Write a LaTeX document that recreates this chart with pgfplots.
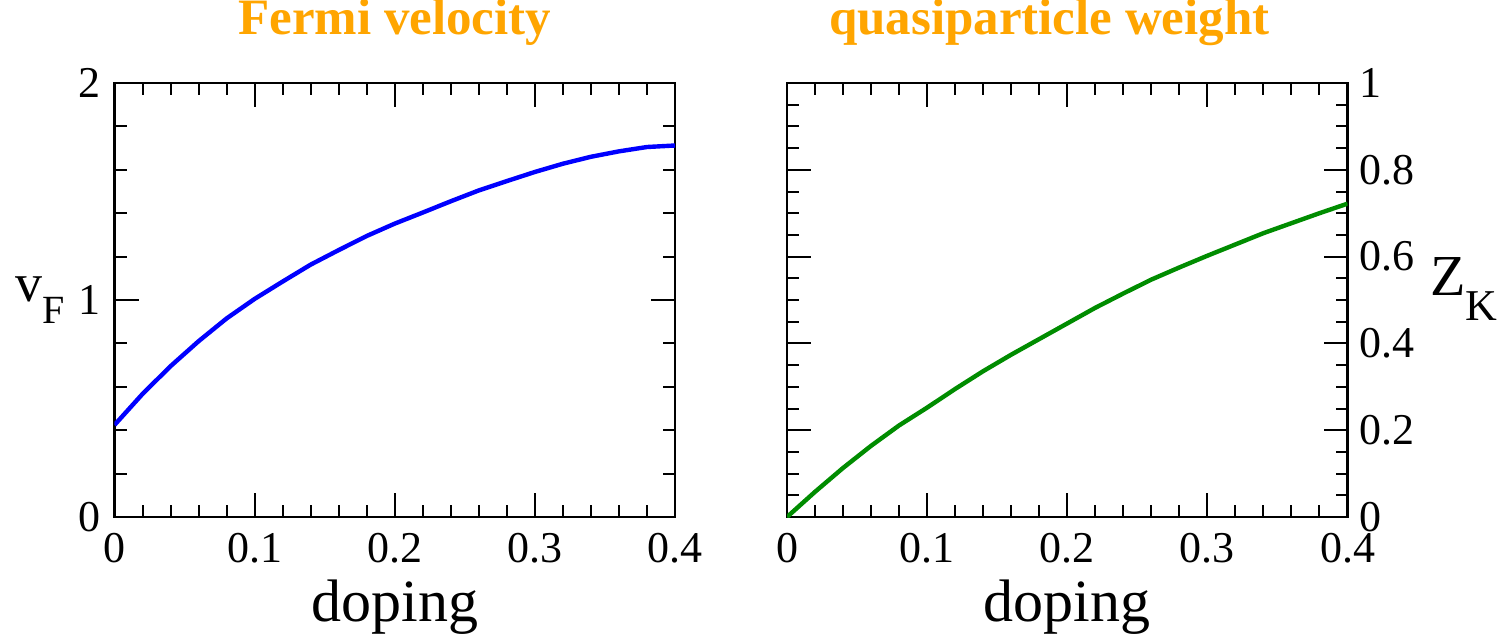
\documentclass[border=0pt]{standalone}
\usepackage{fontspec}
\setmainfont{Liberation Serif}
\usepackage{pgfplots}
\pgfplotsset{compat=1.18}
\definecolor{TitleOrange}{HTML}{FFA500}
\definecolor{CurveGreen}{HTML}{008C00}

% shared look of both panels (1 px of the reference = 0.5pt)
\pgfplotsset{
  panel/.style={
    scale only axis,
    width=280.25pt, height=217pt,
    xmin=0, xmax=0.4, ymin=0,
    xtick={0,0.1,0.2,0.3,0.4},
    xticklabels={0,0.1,0.2,0.3,0.4},
    minor x tick num=4,
    tick align=inside,
    major tick length=12pt,
    minor tick length=6pt,
    tick style={black, line width=1pt},
    axis line style={line width=1.1pt},
    tick label style={font=\rmfamily\fontsize{22}{22}\selectfont},
    xticklabel style={anchor=north, inner sep=0pt, yshift=-8pt},
    xlabel=doping,
    xlabel style={at={(axis description cs:0.5,-0.2412)}, anchor=base,
      font=\fontsize{30}{30}\selectfont},
    title style={anchor=base, inner sep=0pt,
      font=\bfseries\fontsize{25.5}{25.5}\selectfont, text=TitleOrange},
  }
}

\begin{document}
\begin{tikzpicture}
\path[use as bounding box] (0,0) rectangle (750.5pt,316.5pt);

\begin{axis}[
    panel,
    at={(57.25pt,58pt)}, anchor=south west,
    ymax=2,
    ytick={0,1,2},
    yticklabels={0,1,2},
    minor y tick num=4,
    yticklabel style={anchor=east, inner sep=0pt, xshift=-7pt},
    title={Fermi velocity},
    title style={at={(axis description cs:0.5,1.083)}},
    ylabel={v\raisebox{-11pt}{\fontsize{20}{20}\selectfont F}},
    ylabel style={rotate=-90, at={(axis description cs:-0.190,0.4977)},
      anchor=base west, font=\fontsize{27}{27}\selectfont},
  ]
  \addplot[blue, line width=2.2pt] coordinates {
    (0.00,0.424) (0.02,0.567) (0.04,0.695) (0.06,0.810) (0.08,0.915)
    (0.10,1.005) (0.12,1.085) (0.14,1.163) (0.16,1.230) (0.18,1.295)
    (0.20,1.352) (0.22,1.403) (0.24,1.455) (0.26,1.505) (0.28,1.548)
    (0.30,1.590) (0.32,1.628) (0.34,1.660) (0.36,1.685) (0.38,1.705)
    (0.40,1.712)
  };
\end{axis}

\begin{axis}[
    panel,
    at={(393.5pt,58pt)}, anchor=south west,
    ymax=1,
    ytick={0,0.2,0.4,0.6,0.8,1},
    yticklabels={0,0.2,0.4,0.6,0.8,1},
    minor y tick num=3,
    ytick pos=both,
    yticklabel pos=right,
    yticklabel style={anchor=west, inner sep=0pt, xshift=6pt},
    title={quasiparticle weight},
    title style={at={(axis description cs:0.468,1.083)}},
    ylabel={Z\raisebox{-12.5pt}{\fontsize{22}{22}\selectfont K}},
    ylabel style={rotate=-90, at={(axis description cs:1.1354,0.5115)},
      anchor=base west, font=\fontsize{29}{29}\selectfont},
  ]
  \addplot[CurveGreen, line width=2.2pt] coordinates {
    (0.00,0.000) (0.02,0.058) (0.04,0.113) (0.06,0.164) (0.08,0.211)
    (0.10,0.252) (0.12,0.295) (0.14,0.336) (0.16,0.374) (0.18,0.410)
    (0.20,0.446) (0.22,0.482) (0.24,0.515) (0.26,0.547) (0.28,0.575)
    (0.30,0.602) (0.32,0.628) (0.34,0.654) (0.36,0.677) (0.38,0.700)
    (0.40,0.722)
  };
\end{axis}
\end{tikzpicture}
\end{document}
